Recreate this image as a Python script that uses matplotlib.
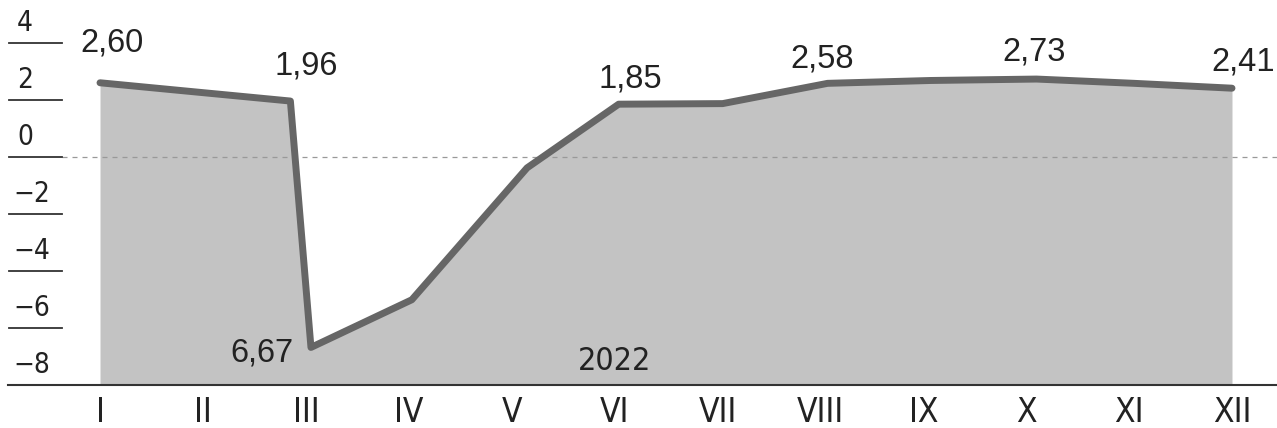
import matplotlib
matplotlib.use('Agg')
import matplotlib.pyplot as plt
from matplotlib import font_manager

months = ['I', 'II', 'III', 'IV', 'V', 'VI', 'VII', 'VIII', 'IX', 'X', 'XI', 'XII']
# posizione dei punti sull'asse dei mesi (0 = I) e valori
x_pos = [0, 1.85, 2.05, 3.03, 4.15, 5.04, 6.05, 7.07, 8.07, 9.1, 10.05, 11]
values = [2.60, 1.96, -6.67, -5.0, -0.38, 1.85, 1.87, 2.58, 2.68, 2.73, 2.58, 2.41]
y_ticks = [4, 2, 0, -2, -4, -6, -8]

# etichette dei valori: indice del punto, testo
labels = [(0, '2,60'), (1, '1,96'), (2, '6,67'), (5, '1,85'),
          (7, '2,58'), (9, '2,73'), (11, '2,41')]
label_offsets = [(12, 40), (16, 35), (-49, -6), (12, 25), (-5, 24), (-2, 27), (11, 26)]
year = '2022'

# cerca un font stretto, se c'e'
cond = [f.name for f in font_manager.fontManager.ttflist
        if 'ondensed' in f.fname or 'Narrow' in f.fname]
narrow_family = cond[0] if cond else 'Liberation Sans'

plt.rcParams['font.family'] = ['Liberation Sans', 'DejaVu Sans']

fig = plt.figure(figsize=(12.77, 4.28), dpi=100)
ax = fig.add_axes([0, 0, 1, 1])
px = 102.9   # pixel per mese
py = 28.55   # pixel per unita
ax.set_xlim(-100 / px, 11 + 45 / px)
ax.set_ylim(-(428 - 157) / py, 157 / py)
ax.axis('off')

ax.fill_between(x_pos, values, -8, color='#c3c3c3', lw=0, zorder=1)
ax.plot(x_pos, values, color='#666666', lw=5, solid_capstyle='round', zorder=3)

# linea dello zero tratteggiata
ax.plot([(62 - 100) / px, 11 + 45 / px], [0, 0], color='#999999', lw=0.9,
        dashes=(4, 4), zorder=2)
# asse di base
ax.plot([(8 - 100) / px, 11 + 45 / px], [-8, -8], color='#333333', lw=1.5, zorder=4)

nf = dict(family=[narrow_family, 'DejaVu Sans'], fontstretch='condensed')

for t in y_ticks:
    if t != -8:
        ax.plot([(9 - 100) / px, (62 - 100) / px], [t, t], color='#333333', lw=1.3, zorder=4)
    txt = str(t).replace('-', '\u2212')
    x0 = 13 if t < 0 else 17
    ax.text((x0 - 100) / px, t + 6 / py, txt, fontsize=20, ha='left', va='bottom',
            color='#222222', **nf)

for i, m in enumerate(months):
    ax.text(i, -(412 - 157) / py, m, fontsize=24, ha='center', va='center',
            color='#222222', **nf)

for (idx, txt), off in zip(labels, label_offsets):
    ax.annotate(txt, (x_pos[idx], values[idx]), xytext=off, textcoords='offset pixels',
                ha='center', va='center', fontsize=23.5, color='#222222', zorder=5)

ax.text(5, -(361 - 157) / py, year, fontsize=23, ha='center', va='center',
        color='#222222', **nf)

fig.savefig('out.png', dpi=100)
